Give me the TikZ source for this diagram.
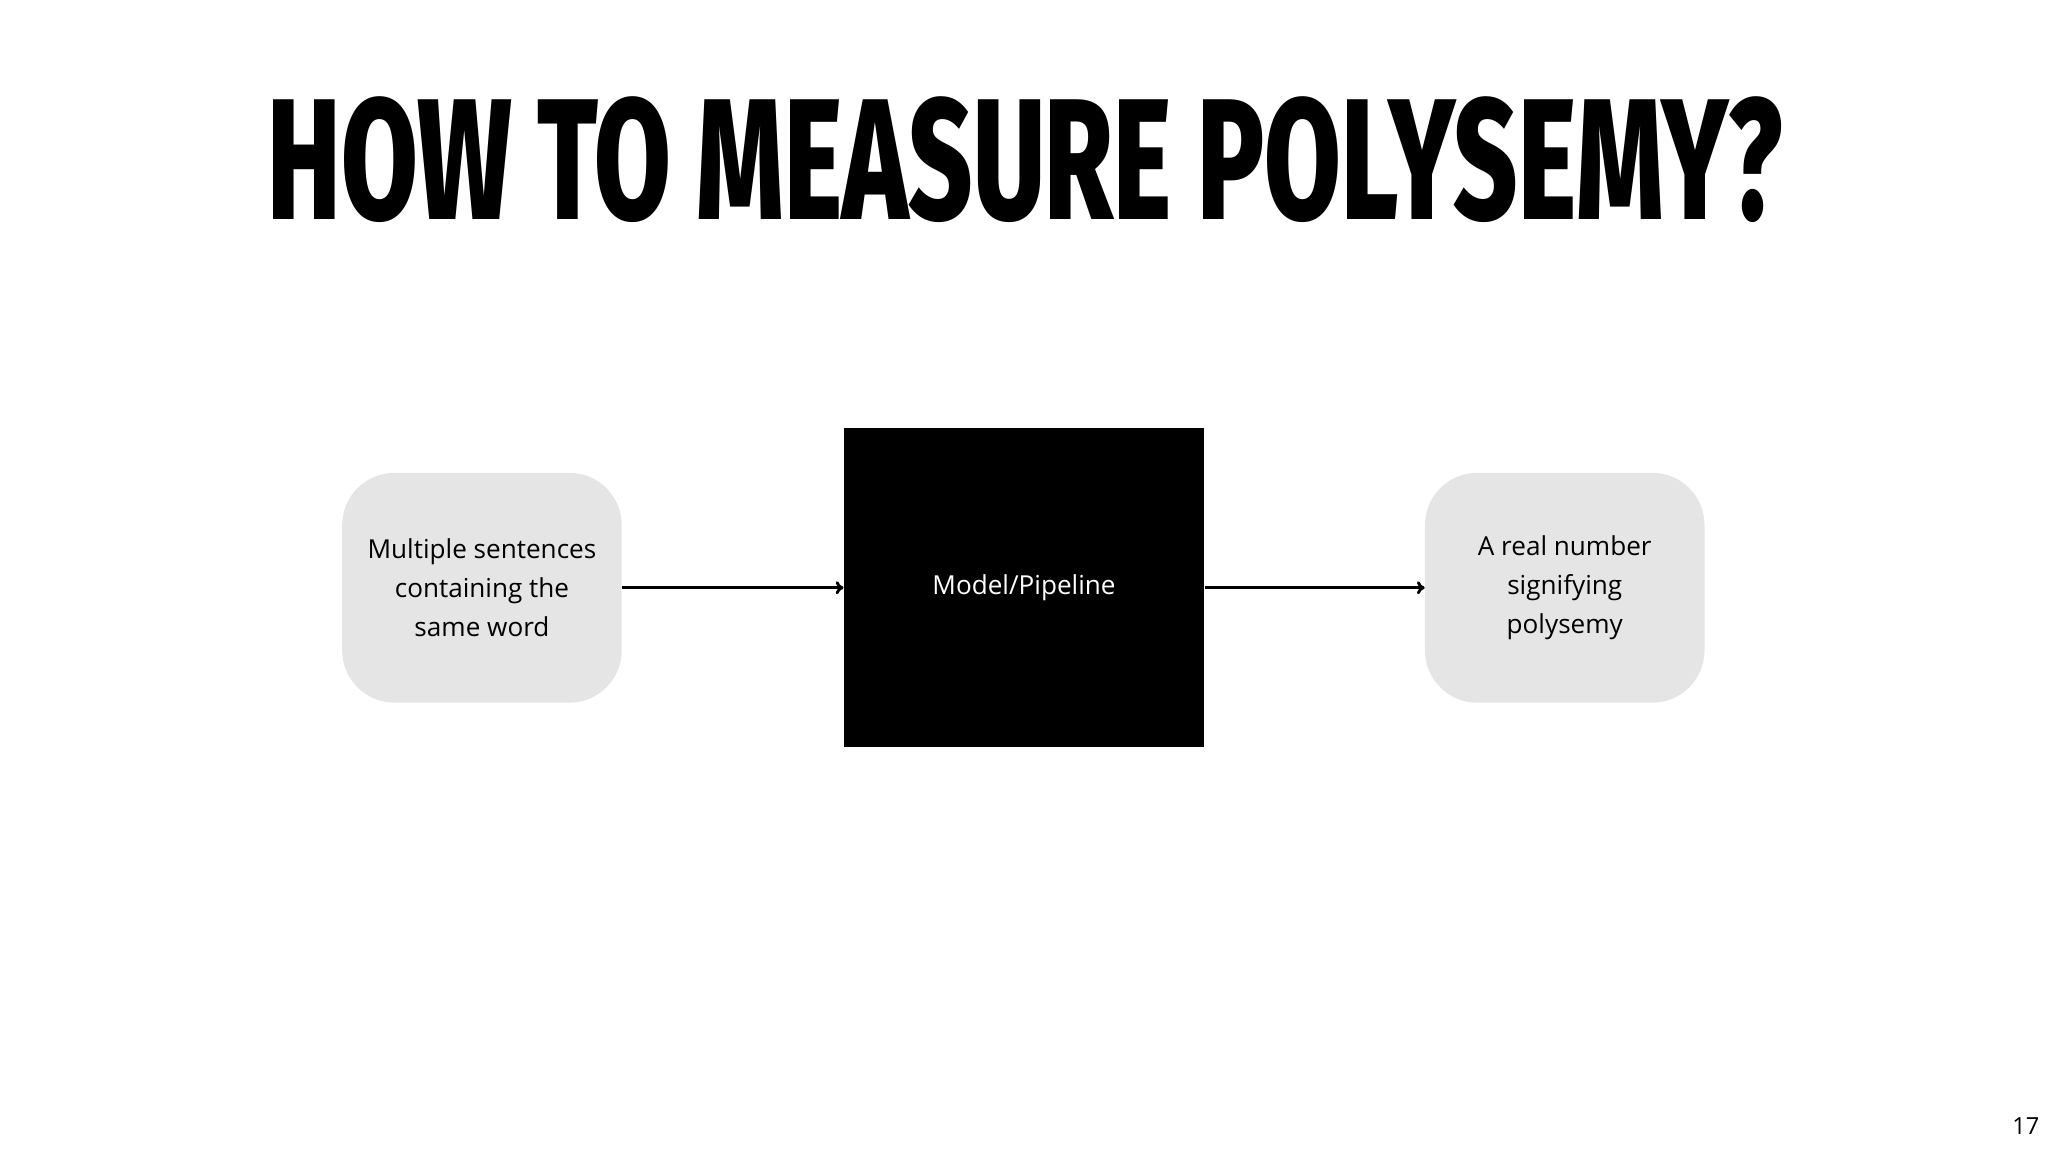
\documentclass[tikz,border=0pt]{standalone}
\usepackage{fontspec}
\setmainfont{Open Sans}
\newfontfamily\titlefont{Fira Sans ExtraBold}
\usetikzlibrary{arrows.meta}
\begin{document}
\begin{tikzpicture}[x=1pt,y=-1pt,
  softbox/.style={fill=black!10,rounded corners=40pt,minimum width=214pt,minimum height=176pt,align=center,font=\fontsize{20}{30}\selectfont,inner sep=0pt},
  conn/.style={-{To[length=6pt,width=10pt]},line width=2.2pt}]
\useasboundingbox (0,0) rectangle (1568,882);
\node (title) at (785,122) {\resizebox{1160pt}{94pt}{\titlefont HOW TO MEASURE POLYSEMY?}};
\node[softbox] (in) at (369,450) {Multiple sentences\\containing the\\same word};
\node[fill=black,minimum width=276pt,minimum height=244pt,text=white,font=\fontsize{20}{30}\selectfont,inner sep=0pt] (model) at (784,450) {Model/Pipeline};
\node[softbox] (out) at (1198,450) {A real number\\signifying\\polysemy};
\draw[conn] (in.east) -- (model.west);
\draw[conn] (model.east) -- (out.west);
\node[font=\fontsize{18}{20}\selectfont] (pg) at (1551,862) {17};
\end{tikzpicture}
\end{document}
